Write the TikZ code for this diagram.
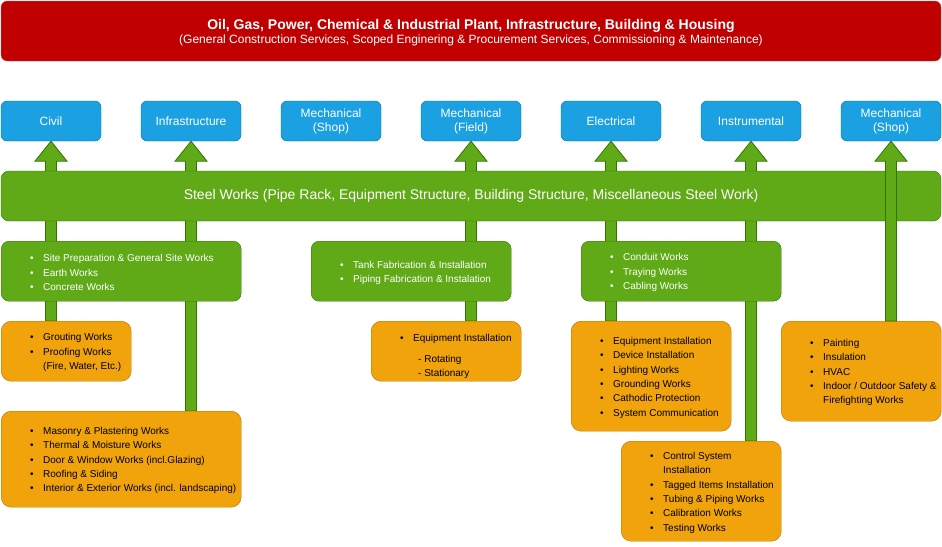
\documentclass[tikz,border=0pt]{standalone}
\usepackage{fontspec}
\setmainfont{Liberation Sans}
\usetikzlibrary{positioning, calc}

\definecolor{bannerred}{HTML}{C00000}
\definecolor{bannerline}{HTML}{C86464}
\definecolor{deptblue}{HTML}{1BA1E2}
\definecolor{deptline}{HTML}{006EAF}
\definecolor{worksgreen}{HTML}{60A917}
\definecolor{greenline}{HTML}{2D7600}
\definecolor{worksorange}{HTML}{F0A30A}
\definecolor{orangeline}{HTML}{BD7000}

\pgfdeclarelayer{back}
\pgfsetlayers{back,main}

\newcommand{\bul}{\makebox[13pt][l]{\textbullet}}
\newcommand{\cont}{\hspace*{13pt}}

\begin{document}
\begin{tikzpicture}[
  x=1pt, y=1pt,
  font=\fontsize{10}{14.3}\selectfont,
  banner/.style={draw=bannerline, fill=bannerred, rounded corners=6pt, minimum width=940pt, minimum height=60pt, inner sep=0pt, text=white, align=center},
  dept/.style={draw=deptline, fill=deptblue, rounded corners=6pt, minimum width=100pt, minimum height=40pt, inner sep=0pt, text=white, align=center, font=\fontsize{12}{14}\selectfont},
  steel/.style={draw=greenline, fill=worksgreen, rounded corners=8pt, minimum width=940pt, minimum height=50pt, inner sep=0pt, text=white, font=\fontsize{14}{16}\selectfont},
  gbox/.style={draw=greenline, fill=worksgreen, rounded corners=8pt, anchor=north west, inner sep=0pt},
  obox/.style={draw=orangeline, fill=worksorange, rounded corners=10pt, anchor=north west, inner sep=0pt},
  gtext/.style={anchor=west, align=left, inner sep=0pt, text=white, yshift=-1.5pt},
  otext/.style={anchor=west, align=left, inner sep=0pt, text=black, yshift=-1.5pt},
  flow/.style={fill=worksgreen, draw=greenline, line width=0.8pt}
  ]
  \useasboundingbox (0,0) rectangle (942,-546);

  % --- header ---
  \node [banner] (plant) at (471,-31) {};
  \node [text=white, align=center, inner sep=0pt] (plantname) at ($(plant.center)+(0,-1.5)$)
    {{\bfseries\fontsize{14}{16}\selectfont Oil, Gas, Power, Chemical \& Industrial Plant, Infrastructure, Building \& Housing}\\[0pt]
     {\fontsize{12}{14}\selectfont (General Construction Services, Scoped Enginering \& Procurement Services, Commissioning \& Maintenance)}};

  % --- disciplines ---
  \node [dept] (civil)  at (51,-121)  {Civil};
  \node [dept] (infra)  at (191,-121) {Infrastructure};
  \node [dept] (mshop)  at (331,-121) {Mechanical\\(Shop)};
  \node [dept] (mfield) at (471,-121) {Mechanical\\(Field)};
  \node [dept] (elec)   at (611,-121) {Electrical};
  \node [dept] (instr)  at (751,-121) {Instrumental};
  \node [dept] (mshopb) at (891,-121) {Mechanical\\(Shop)};

  % --- steel works ---
  \node [steel] (steel) at (471,-196) {Steel Works (Pipe Rack, Equipment Structure, Building Structure, Miscellaneous Steel Work)};

  % --- green works ---
  \node [gbox, minimum width=240pt, minimum height=60pt] (site) at (1,-241) {};
  \node [gtext] (sitelist) at ($(site.west)+(29,0)$) {\bul Site Preparation \& General Site Works\\ \bul Earth Works\\ \bul Concrete Works};

  \node [gbox, minimum width=200pt, minimum height=60pt] (tank) at (311,-241) {};
  \node [gtext] (tanklist) at ($(tank.west)+(29,0)$) {\bul Tank Fabrication \& Installation\\ \bul Piping Fabrication \& Instalation};

  \node [gbox, minimum width=200pt, minimum height=60pt] (conduit) at (581,-241) {};
  \node [gtext] (conduitlist) at ($(conduit.west)+(29,0)$) {\bul Conduit Works\\ \bul Traying Works\\ \bul Cabling Works};

  % --- orange works ---
  \node [obox, minimum width=130pt, minimum height=60pt] (grout) at (1,-321) {};
  \node [otext] (groutlist) at ($(grout.west)+(29,0)$) {\bul Grouting Works\\ \bul Proofing Works\\ \cont (Fire, Water, Etc.)};

  \node [obox, minimum width=240pt, minimum height=96pt] (masonry) at (1,-411) {};
  \node [otext] (masonrylist) at ($(masonry.west)+(29,0)$) {\bul Masonry \& Plastering Works\\ \bul Thermal \& Moisture Works\\ \bul Door \& Window Works (incl.Glazing)\\ \bul Roofing \& Siding\\ \bul Interior \& Exterior Works (incl. landscaping)};

  \node [obox, minimum width=150pt, minimum height=60pt] (equip) at (371,-321) {};
  \node [otext] (equiplist) at ($(equip.west)+(29,-4)$) {\bul Equipment Installation\\[6pt] \hspace*{18pt}- Rotating\\ \hspace*{18pt}- Stationary};

  \node [obox, minimum width=160pt, minimum height=110pt] (device) at (571,-321) {};
  \node [otext] (devicelist) at ($(device.west)+(29,0)$) {\bul Equipment Installation\\ \bul Device Installation\\ \bul Lighting Works\\ \bul Grounding Works\\ \bul Cathodic Protection\\ \bul System Communication};

  \node [obox, minimum width=160pt, minimum height=100pt] (control) at (621,-441) {};
  \node [otext] (controllist) at ($(control.west)+(29,0)$) {\bul Control System\\ \cont Installation\\ \bul Tagged Items Installation\\ \bul Tubing \& Piping Works\\ \bul Calibration Works\\ \bul Testing Works};

  \node [obox, minimum width=160pt, minimum height=100pt] (paint) at (781,-321) {};
  \node [otext] (paintlist) at ($(paint.west)+(29,0)$) {\bul Painting\\ \bul Insulation\\ \bul HVAC\\ \bul Indoor / Outdoor Safety \&\\ \cont Firefighting Works};

  % --- arrows behind the boxes ---
  \begin{pgfonlayer}{back}
    \foreach \dst/\src in {civil/grout, infra/masonry, mfield/equip, elec/device, instr/control}
      \path [flow] ($(\dst.south |- \src.north)+(-5.5,0)$) -- ($(\dst.south)+(-5.5,-20)$) -- ($(\dst.south)+(-16,-20)$)
        -- (\dst.south) -- ($(\dst.south)+(16,-20)$) -- ($(\dst.south)+(5.5,-20)$) -- ($(\dst.south |- \src.north)+(5.5,0)$) -- cycle;
  \end{pgfonlayer}

  % --- arrow over the steel bar ---
  \path [flow] ($(mshopb.south |- paint.north)+(-5.5,0)$) -- ($(mshopb.south)+(-5.5,-20)$) -- ($(mshopb.south)+(-16,-20)$)
    -- (mshopb.south) -- ($(mshopb.south)+(16,-20)$) -- ($(mshopb.south)+(5.5,-20)$) -- ($(mshopb.south |- paint.north)+(5.5,0)$) -- cycle;

\end{tikzpicture}
\end{document}
